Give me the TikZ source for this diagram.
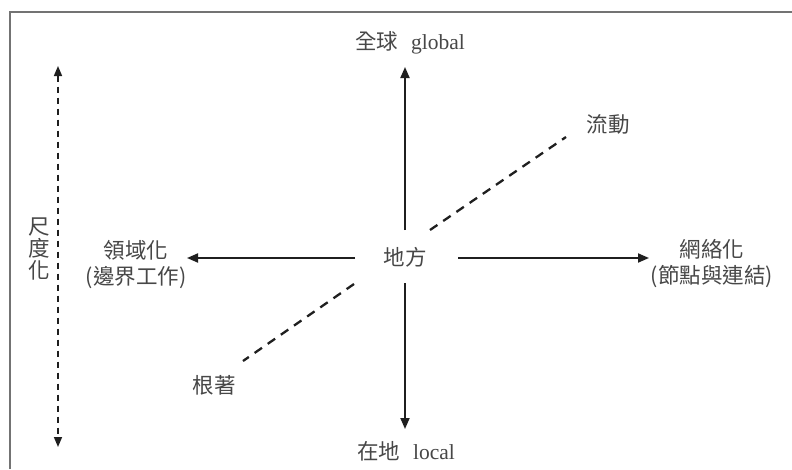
\documentclass[tikz,border=0pt]{standalone}
\usepackage{fontspec}
\setmainfont{Liberation Serif}
\newfontfamily\cjk{Noto Sans CJK TC}
\usetikzlibrary{arrows.meta}
\begin{document}
\begin{tikzpicture}[x=1pt,y=-1pt,
  lbl/.style={text=black!72, font=\fontsize{21.5}{24}\selectfont\cjk, inner sep=0pt, align=center},
  axis/.style={draw=black!88, line width=1.9pt, -{Triangle[length=11pt,width=9pt]}},
  dashln/.style={draw=black!88, line width=2.3pt, dash pattern=on 9pt off 7pt},
  scalearr/.style={draw=black!88, line width=1.5pt, dash pattern=on 6pt off 5pt,
    {Triangle[length=10pt,width=8pt]}-{Triangle[length=10pt,width=8pt]}},
  framel/.style={draw=black!55, line width=1.5pt}]
\useasboundingbox (0,0) rectangle (792,469);
\fill[white] (0,0) rectangle (792,469);
% frame (top and left edges visible)
\coordinate (fbl) at (10,469);
\coordinate (ftl) at (10,12);
\coordinate (ftr) at (792,12);
\draw[framel] (fbl) -- (ftl) -- (ftr);

% labels
\node[lbl] (center) at (405,257) {地方};
\node[lbl] (global) at (410,43) {全球\hspace{0.6em}{\rmfamily global}};
\node[lbl] (local) at (406,451) {在地\hspace{0.6em}{\rmfamily local}};
\node[lbl] (terr) at (136,264) {領域化\\[2pt](邊界工作)};
\node[lbl] (netw) at (712,264) {網絡化\\[2pt](節點與連結)};
\node[lbl] (flow) at (608,124) {流動};
\node[lbl] (root) at (214,385) {根著};
\node[lbl, font=\fontsize{21.5}{22}\selectfont\cjk] (scale) at (39,249) {尺\\度\\化};

% arrow end points
\coordinate (upS) at (405,230);
\coordinate (upE) at (405,67);
\coordinate (dnS) at (405,283);
\coordinate (dnE) at (405,429);
\coordinate (lfS) at (355,258);
\coordinate (lfE) at (187,258);
\coordinate (rtS) at (458,258);
\coordinate (rtE) at (649,258);
\coordinate (d1S) at (430,230);
\coordinate (d1E) at (566,137);
\coordinate (d2S) at (354,284);
\coordinate (d2E) at (243,361);
\coordinate (scT) at (58,66);
\coordinate (scB) at (58,447);

\draw[axis] (upS) -- (upE);
\draw[axis] (dnS) -- (dnE);
\draw[axis] (lfS) -- (lfE);
\draw[axis] (rtS) -- (rtE);
\draw[dashln] (d1S) -- (d1E);
\draw[dashln] (d2S) -- (d2E);
\draw[scalearr] (scT) -- (scB);
\end{tikzpicture}
\end{document}
